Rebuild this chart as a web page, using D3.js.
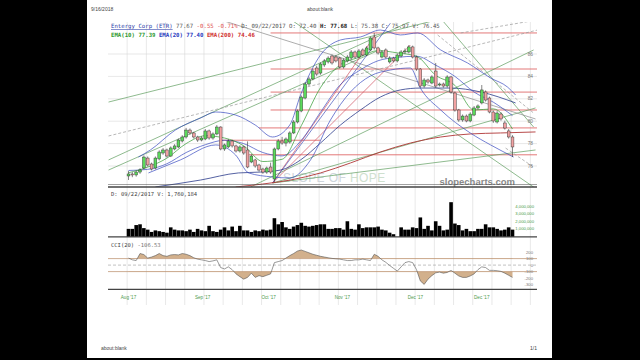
<!DOCTYPE html>
<html><head><meta charset="utf-8">
<script src="https://cdn.jsdelivr.net/npm/d3@7"></script>
<style>body{margin:0;background:#000;}svg{display:block}</style></head>
<body><svg id="c" width="640" height="360"></svg>
<script>
// ---------------- DATA ----------------
const opens  = [75.11,75.29,75.20,75.46,75.82,76.71,76.18,75.82,76.63,77.16,77.43,76.89,77.52,77.70,78.23,78.59,79.21,78.95,78.59,78.32,78.41,79.13,78.50,78.86,79.48,77.52,77.70,78.23,77.79,77.34,77.70,77.43,76.36,76.54,76.09,75.73,75.46,75.91,74.84,77.52,78.23,78.05,78.14,78.95,79.93,80.91,82.07,83.32,83.77,84.75,84.30,85.02,85.29,85.82,85.73,85.64,84.84,85.38,85.64,86.18,85.73,86.36,85.91,86.36,87.52,86.54,85.73,86.36,85.29,85.64,85.38,85.82,86.18,86.18,86.63,85.73,84.66,83.14,83.68,83.41,84.48,83.23,83.32,83.14,83.95,82.52,81.00,80.11,80.46,80.02,80.55,81.18,81.63,82.61,82.07,80.82,79.93,80.64,79.84,79.13,78.59];
const highs  = [75.55,75.45,75.60,75.80,76.95,76.85,76.30,76.85,77.40,77.60,77.55,77.75,77.95,78.45,78.75,79.40,79.35,79.05,78.70,78.65,79.30,79.25,79.00,79.65,79.55,78.00,78.40,78.35,77.90,77.85,77.80,78.20,77.05,76.65,76.20,75.85,75.95,76.30,77.65,78.40,78.60,78.55,79.10,80.10,81.05,82.30,83.45,83.95,84.65,84.95,85.25,85.55,85.80,85.95,85.90,85.75,85.60,85.90,86.35,86.30,86.45,86.50,86.70,87.55,87.88,86.65,86.35,86.50,85.80,85.75,86.05,86.35,86.50,86.80,86.75,85.85,84.75,83.85,83.80,84.10,85.20,83.45,83.45,84.10,84.05,82.65,81.10,80.60,80.60,80.80,81.35,81.50,83.23,82.75,82.20,80.95,80.90,80.80,80.05,79.30,78.75];
const lows   = [74.75,75.00,75.05,75.30,75.70,75.95,75.60,75.70,76.50,77.00,76.75,76.80,77.40,77.60,78.10,78.45,78.80,78.45,78.15,78.20,78.30,78.35,78.35,78.75,77.40,77.35,77.60,77.65,77.20,77.20,77.00,75.80,76.25,75.85,75.50,75.30,75.30,75.30,74.57,77.40,77.90,77.75,78.00,78.85,79.80,80.80,81.95,83.15,83.65,84.05,84.15,84.85,85.15,85.05,85.25,84.70,84.70,85.25,85.50,85.60,85.60,85.80,85.80,86.25,86.40,85.95,85.60,85.60,85.15,85.25,85.25,85.70,86.00,86.05,85.60,84.50,83.00,83.00,83.35,83.30,83.00,83.10,83.00,83.00,82.45,80.85,79.95,79.95,79.90,79.90,80.45,81.05,81.50,81.75,80.70,79.85,79.80,80.05,79.25,78.45,76.80];
const closes = [75.29,75.20,75.46,75.64,76.80,76.09,75.73,76.71,77.25,77.43,76.89,77.61,77.79,78.32,78.59,79.21,78.95,78.59,78.32,78.50,79.13,78.50,78.86,79.48,77.52,77.88,78.23,77.79,77.34,77.70,77.16,75.91,76.89,76.00,75.64,75.46,75.82,75.46,77.52,78.23,78.05,78.41,78.95,79.93,80.91,82.16,83.32,83.77,84.48,84.21,85.11,85.38,85.64,85.20,85.38,84.84,85.46,85.73,86.18,85.73,86.27,85.91,86.54,87.43,86.54,86.09,86.18,85.73,85.64,85.38,85.91,86.18,86.27,86.63,85.73,84.66,83.14,83.68,83.50,83.95,83.14,83.32,83.14,83.95,82.61,81.00,80.11,80.46,80.02,80.64,81.18,81.36,82.79,81.89,80.82,80.02,80.73,80.20,79.39,78.59,77.70];
// volume in millions of shares
const volumes = [1.0,1.0,1.5,1.6,1.1,0.9,0.6,0.8,0.7,0.6,0.5,1.2,0.9,0.8,0.8,0.7,0.9,0.6,1.0,0.8,0.7,1.4,0.7,0.6,0.9,1.2,0.8,1.3,0.7,1.4,0.8,0.8,0.6,0.8,0.7,0.9,0.8,0.9,2.4,1.6,1.9,1.2,1.0,1.3,1.5,1.8,1.4,1.3,1.4,1.5,1.6,1.6,1.0,1.0,1.1,1.1,0.9,2.0,1.0,0.9,1.6,1.1,1.2,1.2,1.2,1.3,0.9,0.8,0.5,0.3,0,1.2,0.9,0.9,1.2,1.1,2.5,1.0,1.4,0.8,2.0,1.4,0.8,0.9,4.5,1.7,1.5,0.8,1.0,0.7,0.7,1.0,1.0,1.6,1.2,1.2,1.0,0.8,0.9,1.2,0.9];
const cci = [108,81,70,178,162,108,124,146,178,146,135,157,162,157,178,167,146,113,92,81,70,54,65,81,-38,-59,-27,-70,-135,-178,-216,-189,-124,-189,-162,-178,-157,-135,38,54,70,108,146,178,216,232,211,189,167,151,135,124,113,103,97,92,81,70,70,81,81,92,81,70,167,135,81,43,-5,-49,-92,-27,38,54,38,-70,-243,-297,-216,-162,-119,-108,-124,-113,-81,-124,-167,-189,-189,-167,-135,-70,-27,-38,-81,-81,-86,-97,-124,-157,-189];
// indicator lines read at sample bars
const ema10Idx = [0,5,10,15,20,25,30,35,40,45,50,55,60,65,70,75,80,85,90,95,100];
const ema10Val = [75.4,75.9,76.7,78.0,78.7,78.5,77.8,76.4,76.6,79.6,83.0,85.0,85.7,86.3,86.1,85.8,84.1,83.2,81.0,81.1,79.3];
const ema20Idx = [0,5,10,15,20,25,30,35,40,45,50,55,60,65,70,75,80,85,90,95,100];
const ema20Val = [75.6,75.7,76.2,77.2,77.9,78.3,78.0,77.2,76.9,78.3,80.8,83.2,84.5,85.4,85.7,85.8,85.0,84.0,82.6,81.7,80.5];
const upperIdx = [2.6,5.7,12.2,18.8,22.7,27.9,33,37.5,42,44.8,50,55.2,60.4,65.6,70.8,75.3,81.3,88.3,94.3,98.7,100.8];
const upperVal = [76.80,77.43,79.21,80.29,80.82,80.55,79.66,78.59,79.66,82.34,85.91,87.25,87.52,88.14,87.70,87.88,86.36,85.20,83.86,83.05,82.34];
const lowerIdx = [5.2,13.5,22.7,27.9,31.3,37.5,42,47.4,52.6,57.8,63,68.2,73.4,76,81.3,89,94.3,100.3];
const lowerVal = [75.38,76.54,77.88,76.98,75.38,75.02,74.93,76.54,80.11,82.61,84.04,84.57,84.75,82.96,81.0,78.95,77.88,76.80];
const ema50Idx = [7,18.8,28.6,34.4,39.6,44.8,50,55.2,60.4,65.6,70.8,76,83.9,91.7,100.8];
const ema50Val = [74.13,74.75,75.38,75.46,75.64,76.54,78.05,79.66,81.0,82.16,82.79,82.96,82.96,82.61,81.63];
const ema200Idx = [27.9,34.9,42.2,50,57.8,65.6,73.4,81.3,89,96.9,106];
const ema200Val = [74.13,74.39,74.75,75.38,76.27,77.25,78.05,78.59,78.86,78.95,79.04];
// drawn support / resistance levels
const levelPrices = [87.88,84.66,82.60,81.00,79.40,78.30,77.00];
const levelFrom   = [37,37,37,37,34,24,31];
const levelTo     = [106.5,106.5,106.5,106.5,106.5,50,106.5];
// trend lines [bar1, price1, bar2, price2]
const greenTrends = [[-5.2,81.71,106,91.25],[-5.2,76.54,106,94.03],[-5.2,75.64,65.6,86.4],[34.9,90.82,106,74.0],[77.2,90.82,105.5,79.48],[37.5,74.48,106,81.18],[37.5,74.48,106,77.43],[31.8,74.13,105.5,86.36]];
const greyTrends = [[7.55,90.82,106,80.2]];
const dashedTrends = [[-5.2,78.68,106.5,88.14],[80.5,87.7,105.5,80.73],[98.2,77.6,105.5,75.9],[86.5,87.88,106.5,89.04]];
const redTrends = [[37.5,74.48,64.3,87.7],[37.5,74.48,73.4,86.8]];
const blueTrends = [[37.5,74.48,68.2,88.75]];
// ticks
const priceTicks = [76,78,80,82,84,86];
const volTicks = [1,2,3,4];
const volTickLabels = ["1,000,000","2,000,000","3,000,000","4,000,000"];
const cciTicks = [200,100,0,-100,-200,-300];
const monthLabels = ["Aug '17","Sep '17","Oct '17","Nov '17","Dec '17","Dec '17"];
const monthIdx = [0,19.3,36.5,55.7,74.7,92];

// ---------------- DRAW ----------------
const svg = d3.select("#c");
svg.append("rect").attr("x",0).attr("y",0).attr("width",640).attr("height",360).attr("fill","#000");
svg.append("rect").attr("x",87).attr("y",0).attr("width",465).attr("height",358).attr("fill","#fff");
const sans = "Liberation Sans, Arial, sans-serif", mono = "DejaVu Sans Mono, monospace";
svg.append("text").attr("x",91).attr("y",11).attr("font-family",sans).attr("font-size",5).attr("fill","#444").text("9/16/2018");
svg.append("text").attr("x",320).attr("y",11).attr("text-anchor","middle").attr("font-family",sans).attr("font-size",5).attr("fill","#444").text("about:blank");
svg.append("text").attr("x",101).attr("y",350).attr("font-family",sans).attr("font-size",5).attr("fill","#444").text("about:blank");
svg.append("text").attr("x",537).attr("y",350).attr("text-anchor","end").attr("font-family",sans).attr("font-size",5).attr("fill","#444").text("1/1");

const L = 108, R = 537;
const xS = d3.scaleLinear().domain([0,100]).range([128.5,512.5]);
const yP = d3.scaleLinear().domain([74.125,88.857]).range([187,22]);
const yV = d3.scaleLinear().domain([0,4]).range([236.5,206]);
const yC = d3.scaleLinear().domain([-300,200]).range([284.6,252.1]);

// vertical grid (weekly)
const gridIdx = d3.range(-0.35, 106, 5);
svg.append("g").selectAll("line").data(gridIdx).join("line")
  .attr("x1",d=>xS(d)).attr("x2",d=>xS(d)).attr("y1",22).attr("y2",305)
  .attr("stroke","#d8d8d8").attr("stroke-width",0.6);
// horizontal price grid
svg.append("g").selectAll("line").data(priceTicks).join("line")
  .attr("x1",L).attr("x2",R).attr("y1",d=>yP(d)).attr("y2",d=>yP(d))
  .attr("stroke","#d8d8d8").attr("stroke-width",0.6);

// clip
const defs = svg.append("defs");
defs.append("clipPath").attr("id","pc").append("rect").attr("x",L).attr("y",22).attr("width",R-L).attr("height",165);
const pg = svg.append("g").attr("clip-path","url(#pc)");

// watermark
const wm = pg.append("text").attr("x",283).attr("y",182).attr("font-family",sans).attr("font-size",12).attr("letter-spacing",0.4);
wm.append("tspan").attr("fill","#cfd6dc").text("SLOPE OF ");
wm.append("tspan").attr("fill","#cfe0cf").text("HOPE");
pg.append("text").attr("x",515).attr("y",185).attr("text-anchor","end").attr("font-family",sans).attr("font-weight","bold").attr("font-size",9.5).attr("fill","#8a8a8a").text("slopecharts.com");

// red levels
pg.append("g").selectAll("line").data(levelPrices).join("line")
  .attr("x1",(d,i)=>xS(levelFrom[i])).attr("x2",(d,i)=>xS(levelTo[i]))
  .attr("y1",d=>yP(d)).attr("y2",d=>yP(d)).attr("stroke","#e06a6a").attr("stroke-width",0.9);

function trend(arr, color, w, dash){
  pg.append("g").selectAll("line").data(arr).join("line")
    .attr("x1",d=>xS(d[0])).attr("y1",d=>yP(d[1])).attr("x2",d=>xS(d[2])).attr("y2",d=>yP(d[3]))
    .attr("stroke",color).attr("stroke-width",w).attr("stroke-dasharray",dash||null);
}
trend(greenTrends,"#5e9e5e",0.7);
trend(greyTrends,"#8a8a8a",0.7);
trend(dashedTrends,"#9a9a9a",0.7,"3,2");
trend(redTrends,"#d05060",0.7);
trend(blueTrends,"#4455bb",0.7);

function curve(idx, val, color, w){
  const ln = d3.line().x((d,i)=>xS(idx[i])).y(d=>yP(d)).curve(d3.curveMonotoneX);
  pg.append("path").attr("d",ln(val)).attr("fill","none").attr("stroke",color).attr("stroke-width",w);
}
curve(ema200Idx,ema200Val,"#b03535",0.9);
curve(ema50Idx,ema50Val,"#2a3a8a",0.8);
curve(upperIdx,upperVal,"#3a4ac0",0.7);
curve(lowerIdx,lowerVal,"#3a4ac0",0.7);
curve(ema20Idx,ema20Val,"#3a4ac0",0.7);
curve(ema10Idx,ema10Val,"#2f9a2f",0.7);

// candles
const cw = 2.8;
const cg = pg.append("g");
cg.selectAll("line").data(closes).join("line")
  .attr("x1",(d,i)=>xS(i)).attr("x2",(d,i)=>xS(i))
  .attr("y1",(d,i)=>yP(highs[i])).attr("y2",(d,i)=>yP(lows[i]))
  .attr("stroke","#333").attr("stroke-width",0.6);
cg.selectAll("rect").data(closes).join("rect")
  .attr("x",(d,i)=>xS(i)-cw/2).attr("width",cw)
  .attr("y",(d,i)=>yP(Math.max(d,opens[i])))
  .attr("height",(d,i)=>Math.max(0.6,Math.abs(yP(d)-yP(opens[i]))))
  .attr("fill",(d,i)=>d>=opens[i]?"#5bd95b":"#f2a2a2")
  .attr("stroke","#333").attr("stroke-width",0.45);

// price labels
svg.append("g").selectAll("text").data(priceTicks).join("text")
  .attr("x",533).attr("y",d=>yP(d)+1.7).attr("text-anchor","end")
  .attr("font-family",sans).attr("font-size",4.8).attr("fill","#777").text(d=>d);

// pane borders
[[184.5,0.5],[187,1.3],[236.8,1.3],[289.3,1.3]].forEach(b=>{
  svg.append("line").attr("x1",L).attr("x2",R).attr("y1",b[0]).attr("y2",b[0]).attr("stroke","#444").attr("stroke-width",b[1]);
});

// titles
const t1 = svg.append("text").attr("x",111).attr("y",28).attr("font-family",mono).attr("font-size",5.7).attr("xml:space","preserve");
t1.append("tspan").attr("fill","#2a3aa8").attr("text-decoration","underline").text("Entergy Corp (ETR)");
t1.append("tspan").attr("fill","#555").text(" 77.67");
t1.append("tspan").attr("fill","#e05050").text(" -0.55 -0.71%");
t1.append("tspan").attr("fill","#555").text(" D: 09/22/2017 O: 72.40 ");
t1.append("tspan").attr("fill","#222").attr("font-weight","bold").text("H: 77.68");
t1.append("tspan").attr("fill","#555").text(" L: 75.38 C: 75.97 V: 76.45");
const t2 = svg.append("text").attr("x",111).attr("y",37).attr("font-family",mono).attr("font-size",5.7).attr("font-weight","bold").attr("xml:space","preserve");
t2.append("tspan").attr("fill","#2f9a2f").text("EMA(10) 77.39");
t2.append("tspan").attr("fill","#2a3ac0").text(" EMA(20) 77.40");
t2.append("tspan").attr("fill","#d03030").text(" EMA(200) 74.46");

// volume
svg.append("text").attr("x",111).attr("y",196).attr("font-family",mono).attr("font-size",5.5).attr("fill","#444").text("D: 09/22/2017 V: 1,760,184");
svg.append("g").selectAll("rect").data(volumes).join("rect")
  .attr("x",(d,i)=>xS(i)-1.8).attr("width",3.6)
  .attr("y",d=>yV(d)).attr("height",d=>yV(0)-yV(d)).attr("fill","#000");
svg.append("g").selectAll("text").data(volTicks).join("text")
  .attr("x",534).attr("y",d=>yV(d)+1.5).attr("text-anchor","end")
  .attr("font-family",sans).attr("font-size",4.2).attr("fill","#4c9a4c").text((d,i)=>volTickLabels[i]);

// CCI
svg.append("text").attr("x",111).attr("y",247).attr("font-family",mono).attr("font-size",5.5).attr("xml:space","preserve")
  .call(t=>{t.append("tspan").attr("fill","#444").text("CCI(20)");t.append("tspan").attr("fill","#777").text(" -106.53");});
defs.append("clipPath").attr("id","ca").append("rect").attr("x",L).attr("y",240).attr("width",R-L).attr("height",yC(100)-240);
defs.append("clipPath").attr("id","cb").append("rect").attr("x",L).attr("y",yC(-100)).attr("width",R-L).attr("height",289-yC(-100));
const areaUp = d3.area().x((d,i)=>xS(i)).y0(yC(100)).y1(d=>yC(d));
const areaDn = d3.area().x((d,i)=>xS(i)).y0(yC(-100)).y1(d=>yC(d));
svg.append("path").attr("d",areaUp(cci)).attr("fill","#d2b08c").attr("clip-path","url(#ca)");
svg.append("path").attr("d",areaDn(cci)).attr("fill","#d2b08c").attr("clip-path","url(#cb)");
svg.append("line").attr("x1",L).attr("x2",R).attr("y1",yC(100)).attr("y2",yC(100)).attr("stroke","#b88a66").attr("stroke-width",0.7);
svg.append("line").attr("x1",L).attr("x2",R).attr("y1",yC(-100)).attr("y2",yC(-100)).attr("stroke","#b88a66").attr("stroke-width",0.7);
svg.append("line").attr("x1",L).attr("x2",R).attr("y1",yC(0)).attr("y2",yC(0)).attr("stroke","#999").attr("stroke-width",0.6).attr("stroke-dasharray","3,2");
svg.append("path").attr("d",d3.line().x((d,i)=>xS(i)).y(d=>yC(d))(cci)).attr("fill","none").attr("stroke","#555").attr("stroke-width",0.6);
svg.append("g").selectAll("text").data(cciTicks).join("text")
  .attr("x",533).attr("y",d=>yC(d)+1.5).attr("text-anchor","end")
  .attr("font-family",sans).attr("font-size",4.2).attr("fill","#777").text(d=>d);

// month labels
svg.append("g").selectAll("text").data(monthLabels).join("text")
  .attr("x",(d,i)=>xS(monthIdx[i])).attr("y",299).attr("text-anchor","middle")
  .attr("font-family",sans).attr("font-size",4.6).attr("fill","#4c9a4c").text(d=>d);
</script></body></html>
